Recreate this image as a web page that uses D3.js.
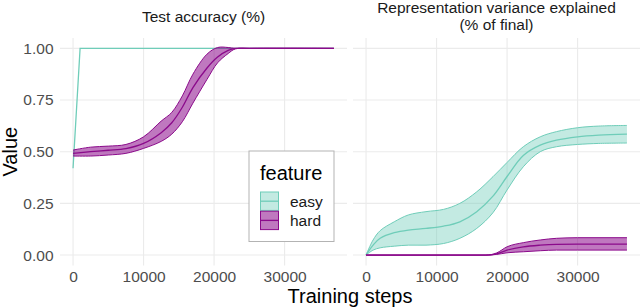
<!DOCTYPE html>
<html>
<head>
<meta charset="utf-8">
<script src="https://cdn.jsdelivr.net/npm/d3@7"></script>
<style>
  body { margin: 0; background: #fff; }
  svg { font-family: "Liberation Sans", Arial, sans-serif; }
</style>
</head>
<body>
<script>
// ---- data ----
var panelTitles = [["Test accuracy (%)"], ["Representation variance explained", "(% of final)"]];
var features = ["easy", "hard"];
var xTicks = [0, 10000, 20000, 30000];
var yTicks = [0, 0.25, 0.5, 0.75, 1];

// left panel: test accuracy
var easyAccSteps = [0, 1000, 37000];
var easyAccMean  = [0.42, 1.0, 1.0];

var hardAccSteps = [0, 2500, 5000, 7500, 10000, 12500, 14000, 15500, 17000, 19000, 20500, 22000, 23000, 25000, 37000];
var hardAccMean  = [0.492, 0.50, 0.507, 0.515, 0.54, 0.592, 0.64, 0.715, 0.81, 0.905, 0.958, 0.99, 1.0, 1.0, 1.0];
var hardAccHi    = [0.508, 0.522, 0.527, 0.535, 0.572, 0.648, 0.69, 0.77, 0.875, 0.972, 1.004, 1.004, 1.0, 1.0, 1.0];
var hardAccLo    = [0.479, 0.479, 0.484, 0.492, 0.516, 0.55, 0.585, 0.645, 0.735, 0.85, 0.93, 0.975, 0.997, 1.0, 1.0];

// right panel: representation variance explained
var easyRepSteps = [0, 1000, 2000, 4000, 6000, 8500, 11000, 13300, 15700, 18000, 20000, 22300, 24700, 27000, 30000, 33000, 37000];
var easyRepMean  = [0, 0.048, 0.081, 0.108, 0.121, 0.129, 0.14, 0.161, 0.21, 0.285, 0.38, 0.482, 0.532, 0.556, 0.572, 0.58, 0.585];
var easyRepHi    = [0, 0.073, 0.118, 0.161, 0.194, 0.21, 0.221, 0.25, 0.306, 0.379, 0.448, 0.524, 0.572, 0.597, 0.616, 0.624, 0.627];
var easyRepLo    = [0, 0.024, 0.035, 0.043, 0.048, 0.048, 0.056, 0.081, 0.129, 0.205, 0.315, 0.427, 0.5, 0.524, 0.535, 0.54, 0.542];

var hardRepSteps = [0, 17000, 18500, 20000, 22300, 24700, 27000, 30000, 37000];
var hardRepMean  = [0, 0, 0.006, 0.024, 0.04, 0.048, 0.052, 0.053, 0.053];
var hardRepHi    = [0, 0, 0.01, 0.04, 0.06, 0.073, 0.081, 0.084, 0.084];
var hardRepLo    = [0, 0, 0.003, 0.011, 0.016, 0.021, 0.024, 0.024, 0.024];

var colors = {easy: "#6fcdb9", hard: "#8b0a8b"};
var fillOpacity = {easy: 0.42, hard: 0.55};

// ---- layout ----
var W = 640, H = 308;
var panels = [{x0: 60, x1: 347}, {x0: 353, x1: 640}];
var plotTop = 38, plotBottom = 265.4;

var svg = d3.select("body").append("svg")
    .attr("width", W)
    .attr("height", H);

var y = d3.scaleLinear().domain([-0.05, 1.05]).range([plotBottom, plotTop]);
var smooth = d3.curveCatmullRom.alpha(0.5);

function zip(steps, a) {
    return steps.map(function(s, i) { return {s: s, v: a[i]}; });
}
function band(steps, lo, hi) {
    return steps.map(function(s, i) { return {s: s, lo: lo[i], hi: hi[i]}; });
}

var series = [
    [ // left
        {key: "easy", mean: zip(easyAccSteps, easyAccMean), curve: d3.curveLinear},
        {key: "hard", mean: zip(hardAccSteps, hardAccMean), band: band(hardAccSteps, hardAccLo, hardAccHi), curve: smooth}
    ],
    [ // right
        {key: "easy", mean: zip(easyRepSteps, easyRepMean), band: band(easyRepSteps, easyRepLo, easyRepHi), curve: smooth},
        {key: "hard", mean: zip(hardRepSteps, hardRepMean), band: band(hardRepSteps, hardRepLo, hardRepHi), curve: d3.curveMonotoneX}
    ]
];

panels.forEach(function(p, pi) {
    var x = d3.scaleLinear().domain([-1850, 38850]).range([p.x0, p.x1]);
    var g = svg.append("g");

    // grid
    g.selectAll(".gx").data(xTicks).enter().append("line")
        .attr("x1", function(d) { return x(d); })
        .attr("x2", function(d) { return x(d); })
        .attr("y1", plotTop).attr("y2", plotBottom)
        .style("stroke", "#ebebeb").style("stroke-width", 1.1);
    g.selectAll(".gy").data(yTicks).enter().append("line")
        .attr("x1", p.x0).attr("x2", p.x1)
        .attr("y1", function(d) { return y(d); })
        .attr("y2", function(d) { return y(d); })
        .style("stroke", "#ebebeb").style("stroke-width", 1.1);

    // x axis
    var xa = g.append("g")
        .attr("transform", "translate(0," + plotBottom + ")")
        .call(d3.axisBottom(x).tickValues(xTicks).tickFormat(d3.format("d")).tickSize(0).tickPadding(5.5));
    xa.select(".domain").remove();
    xa.selectAll("text").style("font-size", "15.5px").style("fill", "#4d4d4d")
        .style("font-family", "Liberation Sans, Arial, sans-serif");

    if (pi === 0) {
        var ya = g.append("g")
            .attr("transform", "translate(" + p.x0 + ",0)")
            .call(d3.axisLeft(y).tickValues(yTicks).tickFormat(d3.format(".2f")).tickSize(0).tickPadding(6.5));
        ya.select(".domain").remove();
        ya.selectAll("text").style("font-size", "15.5px").style("fill", "#4d4d4d")
            .style("font-family", "Liberation Sans, Arial, sans-serif");
    }

    // strip title
    var cx = (p.x0 + p.x1) / 2;
    var lines = panelTitles[pi];
    var base = lines.length === 1 ? 22 : 13;
    lines.forEach(function(t, li) {
        g.append("text")
            .attr("x", cx).attr("y", base + li * 17)
            .attr("text-anchor", "middle")
            .style("font-size", "15.5px")
            .style("fill", "#1a1a1a")
            .text(t);
    });

    // data
    series[pi].forEach(function(s) {
        var c = colors[s.key];
        if (s.band) {
            var area = d3.area().curve(s.curve)
                .x(function(d) { return x(d.s); })
                .y0(function(d) { return y(d.lo); })
                .y1(function(d) { return y(d.hi); });
            g.append("path").datum(s.band)
                .attr("d", area)
                .style("fill", c).style("fill-opacity", fillOpacity[s.key])
                .style("stroke", "none");
            ["lo", "hi"].forEach(function(k) {
                g.append("path").datum(s.band)
                    .attr("d", d3.line().curve(s.curve)
                        .x(function(d) { return x(d.s); })
                        .y(function(d) { return y(d[k]); }))
                    .style("fill", "none").style("stroke", c).style("stroke-width", 1);
            });
        }
        g.append("path").datum(s.mean)
            .attr("d", d3.line().curve(s.curve)
                .x(function(d) { return x(d.s); })
                .y(function(d) { return y(d.v); }))
            .style("fill", "none").style("stroke", c).style("stroke-width", 1.3);
    });
});

// axis titles
svg.append("text")
    .attr("x", (panels[0].x0 + panels[1].x1) / 2).attr("y", 303)
    .attr("text-anchor", "middle")
    .style("font-size", "20px").style("fill", "#000")
    .text("Training steps");

svg.append("text")
    .attr("transform", "translate(17," + ((plotTop + plotBottom) / 2) + ") rotate(-90)")
    .attr("text-anchor", "middle")
    .style("font-size", "20px").style("fill", "#000")
    .text("Value");

// legend
var lg = svg.append("g").attr("transform", "translate(249,151)");
lg.append("rect")
    .attr("x", 0).attr("y", 0).attr("width", 85).attr("height", 90.5)
    .style("fill", "#fff").style("stroke", "#b3b3b3").style("stroke-width", 1);
lg.append("text")
    .attr("x", 11).attr("y", 29)
    .style("font-size", "20px").style("fill", "#000")
    .text("feature");
features.forEach(function(f, i) {
    var ky = 41 + i * 19.2;
    lg.append("rect")
        .attr("x", 11.5).attr("y", ky).attr("width", 18).attr("height", 18.4)
        .style("fill", colors[f]).style("fill-opacity", fillOpacity[f])
        .style("stroke", colors[f]).style("stroke-width", 1);
    lg.append("line")
        .attr("x1", 11.5).attr("x2", 29.5)
        .attr("y1", ky + 9.2).attr("y2", ky + 9.2)
        .style("stroke", colors[f]).style("stroke-width", 1.3);
    lg.append("text")
        .attr("x", 41).attr("y", ky + 15)
        .style("font-size", "15.5px").style("fill", "#1a1a1a")
        .text(f);
});
</script>
</body>
</html>
